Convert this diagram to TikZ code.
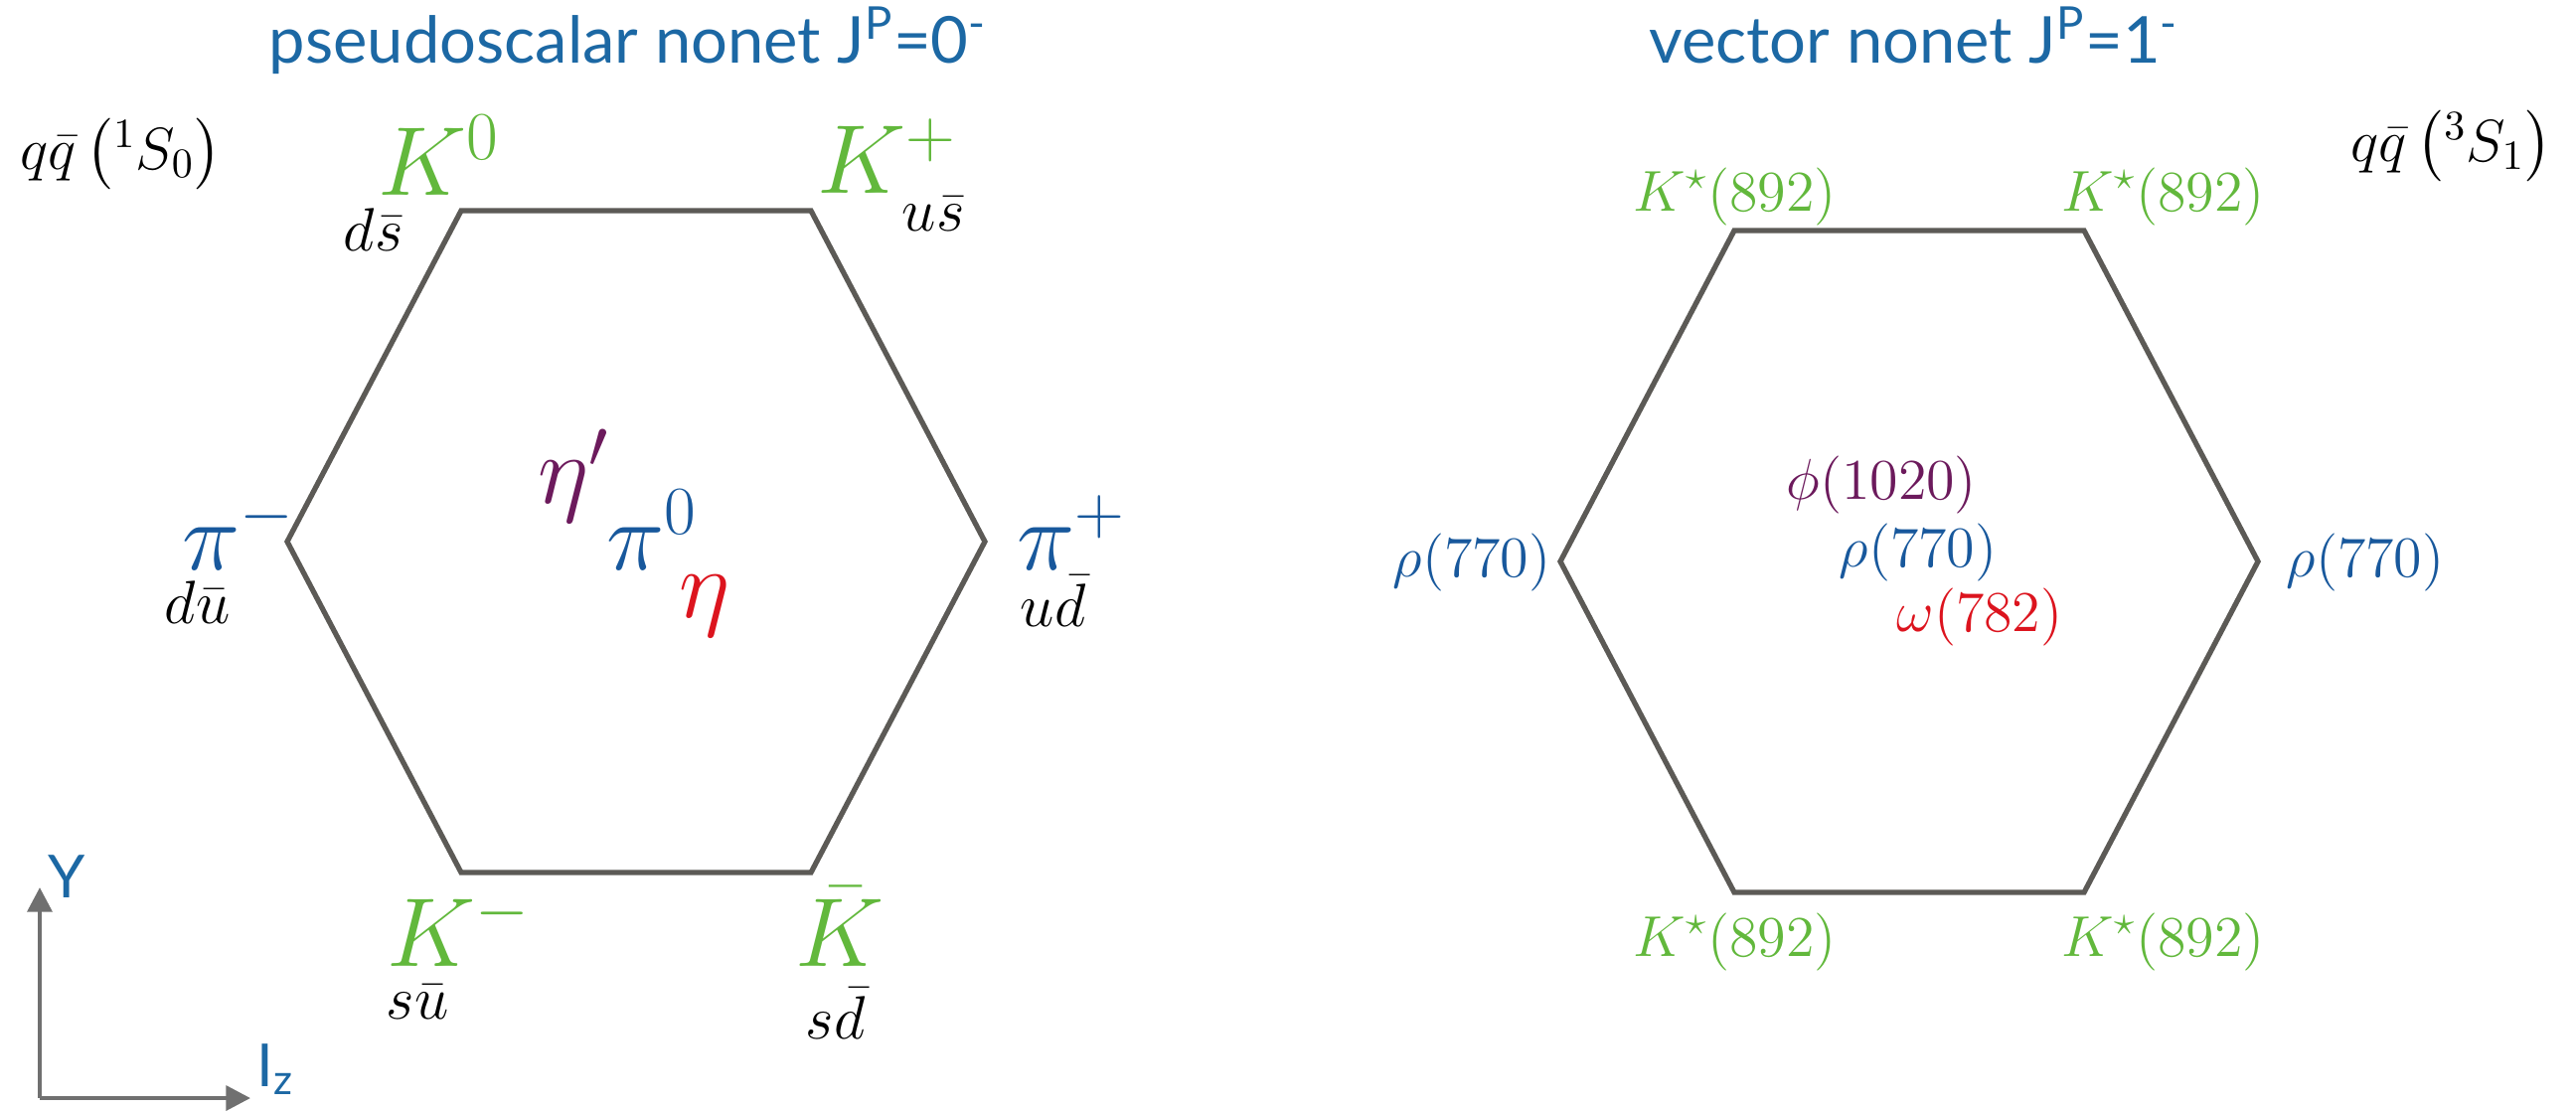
\RequirePackage{fix-cm}
\documentclass[tikz,border=0pt]{standalone}
\usepackage{amsmath,amssymb}
\usepackage{fontspec}
\setsansfont{Lato}
\usepackage{tikz}
\usetikzlibrary{arrows.meta,positioning}
\definecolor{titleblue}{RGB}{28,104,164}
\definecolor{kgreen}{RGB}{98,184,60}
\definecolor{piblue}{RGB}{24,88,156}
\definecolor{etapurple}{RGB}{108,26,92}
\definecolor{etared}{RGB}{220,20,30}
\definecolor{hexgray}{RGB}{92,90,86}
\definecolor{axisgray}{RGB}{112,112,112}

\begin{document}
\begin{tikzpicture}[x=0.01cm, y=-0.01cm, >={Triangle[length=7pt,width=7pt]},
  every node/.style={inner sep=0pt, anchor=base west},
  title/.style={font=\sffamily\fontsize{18.5}{22}\selectfont, text=titleblue, anchor=base},
  axislabel/.style={font=\sffamily\fontsize{17}{20}\selectfont, text=titleblue},
  big/.style={font=\fontsize{28}{32}\selectfont},
  quark/.style={font=\fontsize{17.5}{20}\selectfont},
  mass/.style={font=\fontsize{16.5}{19}\selectfont},
  spec/.style={font=\fontsize{17}{20}\selectfont},
  hexline/.style={draw=hexgray, line width=1.5pt},
  axis/.style={draw=axisgray, line width=1.3pt}]
\useasboundingbox (0,0) rectangle (2592,1117);

% titles
\node[title] (pstitle) at (632,63) {pseudoscalar nonet J\textsuperscript{P}=0\textsuperscript{-}};
\node[title] (vtitle) at (1926,63) {vector nonet J\textsuperscript{P}=1\textsuperscript{-}};
\node[spec] (psspec) at (20,170) {$q\bar{q}\left({}^1S_0\right)$};
\node[spec] (vspec) at (2365,162) {$q\bar{q}\left({}^3S_1\right)$};

% pseudoscalar hexagon
\coordinate (pTL) at (464,212);
\coordinate (pTR) at (816,212);
\coordinate (pR) at (991,545);
\coordinate (pBR) at (816,878);
\coordinate (pBL) at (464,878);
\coordinate (pL) at (289,545);
\draw[hexline] (pTL) -- (pTR) -- (pR) -- (pBR) -- (pBL) -- (pL) -- cycle;

\node[big,text=kgreen] (K0) at (380,196) {$K^0$};
\node[quark] (K0q) at (345,252) {$d\bar{s}$};
\node[big,text=kgreen] (Kp) at (822,194) {$K^+$};
\node[quark] (Kpq) at (907,232) {$u\bar{s}$};
\node[big,text=piblue] (pim) at (183,573) {$\pi^-$};
\node[quark] (pimq) at (165,627) {$d\bar{u}$};
\node[big,text=piblue] (pip) at (1023,573) {$\pi^+$};
\node[quark] (pipq) at (1026,630) {$u\bar{d}$};
\node[big,text=etapurple] (etap) at (541,506) {$\eta'$};
\node[big,text=piblue] (pi0) at (610,573) {$\pi^0$};
\node[big,text=etared] (eta) at (683,621) {$\eta$};
\node[big,text=kgreen] (Km) at (389,972) {$K^-$};
\node[quark] (Kmq) at (388,1025) {$s\bar{u}$};
\node[big,text=kgreen] (Kb) at (800,972) {$\bar{K}$};
\node[quark] (Kbq) at (810,1045) {$s\bar{d}$};

% vector hexagon
\coordinate (vTL) at (1745,232);
\coordinate (vTR) at (2097,232);
\coordinate (vR) at (2272,565);
\coordinate (vBR) at (2097,898);
\coordinate (vBL) at (1745,898);
\coordinate (vL) at (1570,565);
\draw[hexline] (vTL) -- (vTR) -- (vR) -- (vBR) -- (vBL) -- (vL) -- cycle;

\node[mass,text=kgreen] (Ks1) at (1643,212) {$K^\star(892)$};
\node[mass,text=kgreen] (Ks2) at (2074,212) {$K^\star(892)$};
\node[mass,text=kgreen] (Ks3) at (1643,962) {$K^\star(892)$};
\node[mass,text=kgreen] (Ks4) at (2074,962) {$K^\star(892)$};
\node[mass,text=piblue] (rhoL) at (1401,580) {$\rho(770)$};
\node[mass,text=piblue] (rhoR) at (2300,580) {$\rho(770)$};
\node[mass,text=etapurple] (phi) at (1797,502) {$\phi(1020)$};
\node[mass,text=piblue] (rho0) at (1850,570) {$\rho(770)$};
\node[mass,text=etared] (omega) at (1908,635) {$\omega(782)$};

% axes
\coordinate (origin) at (40,1105);
\coordinate (ytip) at (40,893);
\coordinate (xtip) at (252,1105);
\draw[axis,->] (origin) -- (ytip);
\draw[axis,->] (origin) -- (xtip);
\node[axislabel] (ylab) at (48,903) {Y};
\node[axislabel] (izlab) at (258,1093) {I\textsubscript{z}};
\end{tikzpicture}
\end{document}
